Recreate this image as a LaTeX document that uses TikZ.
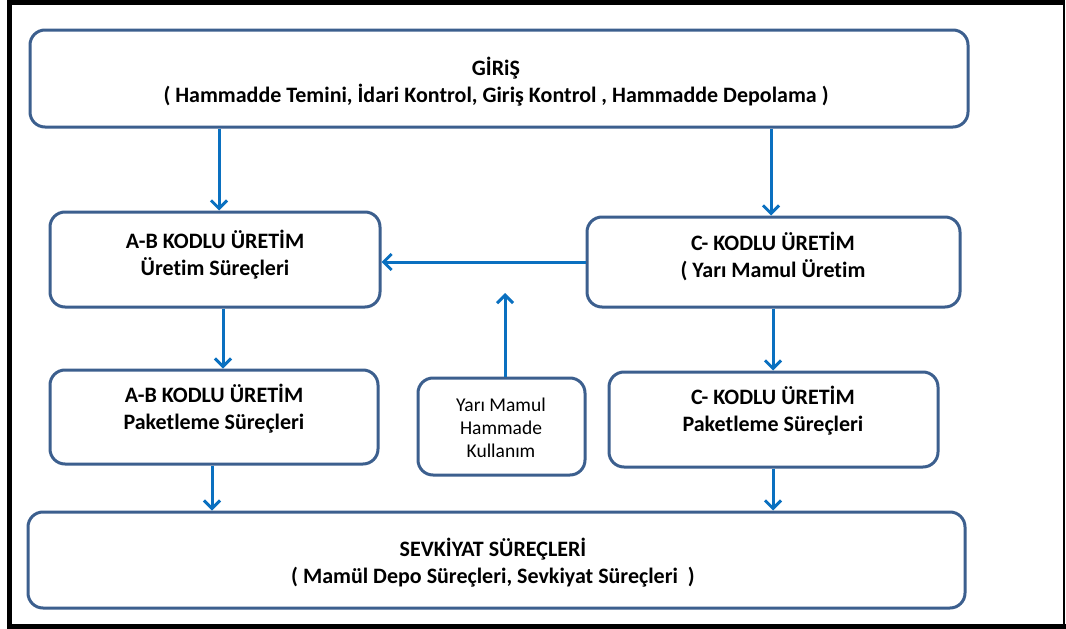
\documentclass[tikz,border=0pt]{standalone}
\usepackage{fontspec}
\setmainfont{Carlito}[Ligatures=NoCommon]
\usetikzlibrary{arrows.meta}
\definecolor{boxblue}{HTML}{3C5F8E}
\definecolor{arrblue}{HTML}{0A70C0}
\tikzset{
  box/.style={draw=boxblue, line width=3pt, rounded corners=15pt, inner sep=0pt, fill=white},
  lbl/.style={align=center, inner sep=0pt, font=\bfseries\fontsize{22}{27}\selectfont},
  lblthin/.style={align=center, inner sep=0pt, font=\fontsize{19.5}{23}\selectfont},
  arr/.style={draw=arrblue, line width=3pt, -{Straight Barb[length=8pt,width=16pt]}},
  frame/.style={draw=black, line width=5pt}
}
\begin{document}
\begin{tikzpicture}[x=1pt,y=-1pt]
\useasboundingbox (0,0) rectangle (1066,629);
\fill[white] (0,0) rectangle (1066,629);
% frame
\draw[frame] (9.5,2.5) -- (1063,2.5);
\draw[frame] (9.5,0) -- (9.5,629);
\draw[frame] (7,626.5) -- (1066,626.5);
\draw[draw=black, line width=2pt] (1063.5,0) -- (1063.5,629);
% boxes
\node[box, minimum width=938pt, minimum height=97pt] (gir) at (499,78.5) {};
\node[box, minimum width=330pt, minimum height=95pt] (ab) at (215,259.5) {};
\node[box, minimum width=373pt, minimum height=90pt] (c) at (773.5,262) {};
\node[box, minimum width=328pt, minimum height=94pt] (abp) at (214,417) {};
\node[box, minimum width=167pt, minimum height=97pt] (ym) at (501.5,426.5) {};
\node[box, minimum width=329pt, minimum height=95pt] (cp) at (773.5,419.5) {};
\node[box, minimum width=937pt, minimum height=96pt] (sev) at (496.5,560) {};
% labels
\node[lbl] (girt) at (496,81.5) {GİRiŞ\\( Hammadde Temini, İdari Kontrol, Giriş Kontrol , Hammadde Depolama )};
\node[lbl] (abt) at (215,254.5) {A-B KODLU ÜRETİM\\Üretim Süreçleri};
\node[lbl] (ct) at (773,256.5) {C- KODLU ÜRETİM\\( Yarı Mamul Üretim};
\node[lbl] (abpt) at (214,408.5) {A-B KODLU ÜRETİM\\Paketleme Süreçleri};
\node[lbl] (cpt) at (773,411) {C- KODLU ÜRETİM\\Paketleme Süreçleri};
\node[lblthin] (ymt) at (501,428) {Yarı Mamul\\Hammade\\Kullanım};
\node[lbl] (sevt) at (493,562.5) {SEVKİYAT SÜREÇLERİ\\( Mamül Depo Süreçleri, Sevkiyat Süreçleri~~)};
% helper coordinates
\coordinate (x1) at (219,0);
\coordinate (x2) at (771,0);
\coordinate (x3) at (223,0);
\coordinate (x4) at (773,0);
\coordinate (x5) at (212,0);
\coordinate (ymtip) at (505,293);
% arrows
\draw[arr] (gir.south -| x1) -- (ab.north -| x1);
\draw[arr] (gir.south -| x2) -- (c.north -| x2);
\draw[arr] (c.west) -- (c.west -| ab.east);
\draw[arr] (ab.south -| x3) -- (abp.north -| x3);
\draw[arr] (c.south -| x4) -- (cp.north -| x4);
\draw[arr] (ym.north -| ymtip) -- (ymtip);
\draw[arr] (abp.south -| x5) -- (sev.north -| x5);
\draw[arr] (cp.south -| x4) -- (sev.north -| x4);
\end{tikzpicture}
\end{document}
